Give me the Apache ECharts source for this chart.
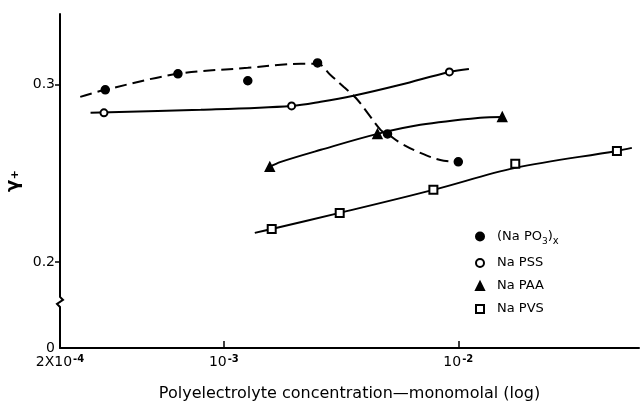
<!DOCTYPE html>
<html lang="en">
<head>
    <meta charset="UTF-8">
    <title>Activity coefficient vs polyelectrolyte concentration</title>
    <script src="https://cdn.jsdelivr.net/npm/echarts@6/dist/echarts.min.js"></script>
    <style>
        html, body { margin: 0; padding: 0; background: #fff; }
        #chart { width: 640px; height: 405px; }
    </style>
</head>
<body>
<div id="chart"></div>
<script type="text/javascript">
    // measured points [concentration, gamma]
    var po3Points = [[3.12e-4, 0.2972], [6.37e-4, 0.3062], [1.265e-3, 0.3023], [2.51e-3, 0.3124], [4.99e-3, 0.2723], [1.0e-2, 0.2565]];
    var pssPoints = [[3.08e-4, 0.2842], [1.945e-3, 0.2881], [9.16e-3, 0.3073]];
    var paaPoints = [[1.57e-3, 0.2537], [4.52e-3, 0.2723], [1.54e-2, 0.2819]];
    var pvsPoints = [[1.6e-3, 0.2186], [3.12e-3, 0.2277], [7.83e-3, 0.2407], [1.75e-2, 0.2554], [4.75e-2, 0.2627]];

    // drawn curves
    var po3Curve = [[2.44e-4, 0.2932], [3.12e-4, 0.2972], [6.37e-4, 0.3062], [1.265e-3, 0.3096], [1.75e-3, 0.3113],
        [2.13e-3, 0.3119], [2.51e-3, 0.3119], [2.85e-3, 0.3056], [3.24e-3, 0.2989], [3.65e-3, 0.2927], [4.10e-3, 0.2842],
        [4.66e-3, 0.2746], [4.99e-3, 0.2723], [5.66e-3, 0.2672], [6.89e-3, 0.2616], [8.38e-3, 0.2576], [1.0e-2, 0.2565]];
    var pssCurve = [[2.7e-4, 0.2842], [7.98e-4, 0.2859], [1.945e-3, 0.2881], [2.59e-3, 0.2904], [3.57e-3, 0.2938],
        [5.66e-3, 0.3], [9.16e-3, 0.3073], [1.11e-2, 0.309]];
    var paaCurve = [[1.57e-3, 0.2537], [1.75e-3, 0.2565], [2.59e-3, 0.2633], [4.52e-3, 0.2723], [6.89e-3, 0.2774],
        [1.24e-2, 0.2814], [1.54e-2, 0.2819]];
    var pvsCurve = [[1.355e-3, 0.2164], [1.6e-3, 0.2186], [3.12e-3, 0.2277], [7.83e-3, 0.2407], [1.75e-2, 0.2531],
        [4.75e-2, 0.2627], [5.5e-2, 0.2644]];

    var seriesNames = ['po3', 'pss', 'paa', 'pvs'];
    var legendLabels = ['(Na PO{sub|3}){subx|x}', 'Na PSS', 'Na PAA', 'Na PVS'];

    var xMin = 2e-4, xMax = 0.059;
    var xTickValues = [2e-4, 1e-3, 1e-2];
    var xTickLabels = ['2X10{sup|-4}', '10{sup|-3}', '10{sup|-2}'];
    var yMin = 0.1514, yMax = 0.340;
    var yTickValues = [0.2, 0.3];
    var yTickLabels = ['0.2', '0.3'];
    var yBottomLabel = '0';
    var yBreak = 0.1774;

    var font = 'DejaVu Sans';
    var chart = echarts.init(document.getElementById('chart'));

    function curve(data, dashed) {
        return {
            type: 'line', data: data, smooth: 0.35, showSymbol: false, silent: true,
            lineStyle: { color: '#000', width: 2, type: dashed ? [12, 6] : 'solid' },
            z: 2
        };
    }

    function points(name, data, symbol, size) {
        return {
            type: 'scatter', name: name, data: data, symbol: symbol, symbolSize: size,
            itemStyle: { color: '#000', borderColor: '#000', borderWidth: 1.5, opacity: 1 },
            z: 3
        };
    }

    var option = {
        backgroundColor: '#fff',
        animation: false,
        textStyle: { fontFamily: font, color: '#000' },
        grid: { left: 60, right: 1, top: 14, bottom: 57, outerBoundsMode: 'none', containLabel: false },
        legend: {
            orient: 'vertical', left: 470, top: 225, itemWidth: 8, itemHeight: 8, itemGap: 10,
            data: seriesNames,
            formatter: function (name) { return legendLabels[seriesNames.indexOf(name)]; },
            textStyle: {
                fontFamily: font, fontSize: 13, color: '#000', padding: [0, 0, 0, 8],
                rich: {
                    sub: { fontSize: 9, verticalAlign: 'bottom', padding: [4, 0, 0, 0], fontFamily: font },
                    subx: { fontSize: 10, verticalAlign: 'bottom', padding: [10, 0, 0, 0], fontFamily: font }
                }
            }
        },
        xAxis: {
            type: 'log', logBase: 10, min: xMin, max: xMax,
            name: 'Polyelectrolyte concentration\u2014monomolal (log)',
            nameLocation: 'middle', nameGap: 38,
            nameTextStyle: { fontFamily: font, fontSize: 16, color: '#000' },
            axisLine: { lineStyle: { color: '#000', width: 2 } },
            axisTick: { customValues: xTickValues.slice(1), inside: true, length: 7, lineStyle: { color: '#000', width: 1.5 } },
            splitLine: { show: false },
            minorTick: { show: false },
            axisLabel: {
                customValues: xTickValues, margin: 6, fontSize: 14, color: '#000',
                formatter: function (v) {
                    var best = 0;
                    for (var i = 0; i < xTickValues.length; i++) {
                        if (Math.abs(Math.log10(v) - Math.log10(xTickValues[i])) < Math.abs(Math.log10(v) - Math.log10(xTickValues[best]))) best = i;
                    }
                    return xTickLabels[best];
                },
                rich: { sup: { fontSize: 10, verticalAlign: 'top', padding: [0, 0, 6, 1], fontFamily: font, fontWeight: 'bold' } }
            }
        },
        yAxis: {
            type: 'value', min: yMin, max: yMax,
            name: 'γ₊', nameLocation: 'middle', nameGap: 36, nameRotate: 90,
            nameTextStyle: { fontFamily: font, fontSize: 18, fontWeight: 'bold', color: '#000' },
            axisLine: { show: true, lineStyle: { color: '#000', width: 2 } },
            axisTick: { show: true, customValues: yTickValues, length: 5, lineStyle: { color: '#000', width: 1.5 } },
            splitLine: { show: false },
            axisLabel: {
                customValues: [yMin].concat(yTickValues), margin: 5, fontSize: 14, color: '#000',
                formatter: function (v) {
                    if (Math.abs(v - yMin) < 1e-6) return yBottomLabel;
                    for (var i = 0; i < yTickValues.length; i++) {
                        if (Math.abs(v - yTickValues[i]) < 1e-6) return yTickLabels[i];
                    }
                    return '';
                }
            }
        },
        series: [
            curve(po3Curve, true),
            curve(pssCurve, false),
            curve(paaCurve, false),
            curve(pvsCurve, false),
            points('po3', po3Points, 'circle', 8),
            points('pss', pssPoints, 'emptyCircle', 7),
            points('paa', paaPoints, 'triangle', 9),
            points('pvs', pvsPoints, 'emptyRect', 8)
        ]
    };
    chart.setOption(option);

    // axis break squiggle on the y axis
    var bx = chart.convertToPixel({ xAxisIndex: 0 }, xMin);
    var by = chart.convertToPixel({ yAxisIndex: 0 }, yBreak);
    chart.setOption({
        graphic: [
            { type: 'rect', shape: { x: bx - 3, y: by - 6, width: 6, height: 12 }, style: { fill: '#fff' }, z: 100 },
            {
                type: 'polyline', z: 101,
                shape: { points: [[bx, by - 8], [bx, by - 5], [bx + 3, by - 2], [bx - 3, by + 2], [bx, by + 5], [bx, by + 8]] },
                style: { stroke: '#000', lineWidth: 2, fill: null }
            }
        ]
    });
</script>
</body>
</html>
